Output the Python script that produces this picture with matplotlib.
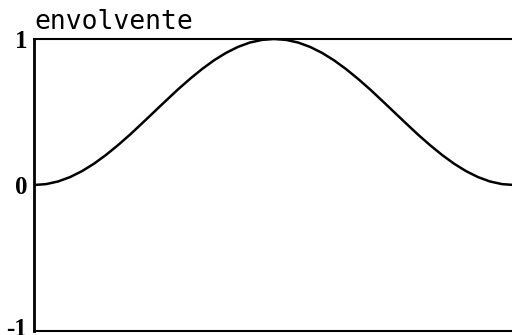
import matplotlib
matplotlib.use("Agg")
import matplotlib.pyplot as plt
import matplotlib.transforms as mtransforms
import numpy as np

# envelope samples over one period (rising half, then mirrored falling half)
t = [i / 40 for i in range(41)]
rise = [0.0, 0.006, 0.024, 0.054, 0.095, 0.146, 0.206, 0.273, 0.345, 0.422,
        0.5, 0.578, 0.655, 0.727, 0.794, 0.854, 0.905, 0.946, 0.976, 0.994, 1.0]
env = rise + rise[-2::-1]

yticks = [-1, 0, 1]
ytick_labels = ["-1", "0", "1"]
title = "envolvente"

fig = plt.figure(figsize=(5.12, 3.35), dpi=100)
ax = fig.add_axes([34 / 512, 1 - 331 / 335, 1 - 34 / 512 + 0.004, (331 - 39) / 335])
ax.plot(t, env, color="black", lw=1.8, solid_capstyle="butt")
ax.set_xlim(0, 1)
ax.set_ylim(-1, 1)
ax.set_xticks([])
ax.set_yticks(yticks)
ax.set_yticklabels(ytick_labels, fontfamily="Liberation Serif", fontweight="bold", fontsize=18)
ax.tick_params(axis="y", length=0, pad=5)

# lift the bottom label a little so it stays mostly inside the canvas
bottom_label = ax.get_yticklabels()[0]
bottom_label.set_transform(bottom_label.get_transform() +
                           mtransforms.ScaledTranslation(0, 4 / 100, fig.dpi_scale_trans))

for s in ax.spines.values():
    s.set_linewidth(1.5)
ax.spines["left"].set_linewidth(2)
ax.text(0.0, 1.015, title, transform=ax.transAxes, ha="left", va="bottom",
        fontfamily="DejaVu Sans Mono", fontsize=19)
fig.savefig("out.png", dpi=100)
